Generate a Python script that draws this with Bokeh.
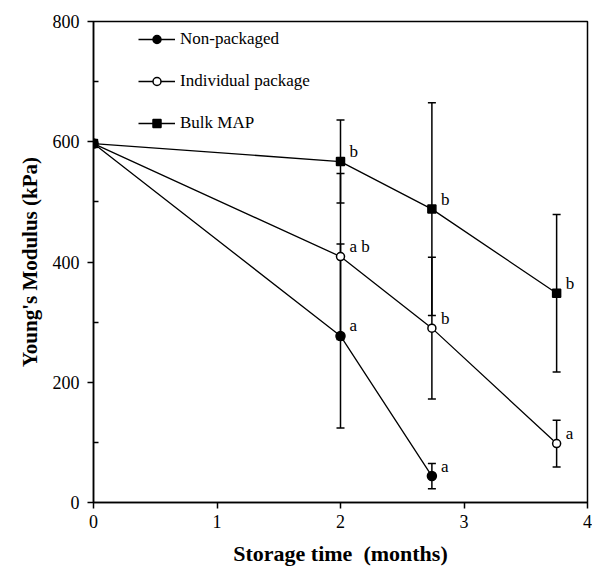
from bokeh.plotting import figure
from bokeh.models import Whisker, TeeHead, ColumnDataSource, FixedTicker, Range1d, Title
from bokeh.embed import file_html
from bokeh.resources import INLINE
from bokeh.core.properties import value

# ---- data ----
months_np = [0, 2, 2.74]
modulus_np = [597, 277, 44]
err_np = [0, 153, 21]
letters_np = ["", "a", "a"]

months_ind = [0, 2, 2.74, 3.75]
modulus_ind = [597, 409, 290, 98]
err_ind = [0, 138, 118, 39]
letters_ind = ["", "a b", "b", "a"]

months_bulk = [0, 2, 2.74, 3.75]
modulus_bulk = [597, 567, 488, 348]
err_bulk = [0, 69, 177, 131]
letters_bulk = ["", "b", "b", "b"]

x_ticks = [0, 1, 2, 3, 4]
y_ticks = [0, 200, 400, 600, 800]
y_minor = [100, 300, 500, 700]

SERIF = "Liberation Serif"

p = figure(width=592, height=568, x_range=Range1d(0, 4), y_range=Range1d(0, 800),
           output_backend="svg", toolbar_location=None,
           min_border_left=93, min_border_right=5, min_border_top=21, min_border_bottom=65)
p.grid.visible = False
p.outline_line_color = "black"
p.outline_line_width = 1.5
p.background_fill_color = "white"
p.border_fill_color = "white"

series = [
    ("Non-packaged", months_np, modulus_np, err_np, letters_np, "circle", "black", 9),
    ("Individual package", months_ind, modulus_ind, err_ind, letters_ind, "circle", "white", 8),
    ("Bulk MAP", months_bulk, modulus_bulk, err_bulk, letters_bulk, "square", "black", 8),
]

sources = []
for name, xs, ys, es, ls, marker, fill, size in series:
    src = ColumnDataSource(dict(x=xs, y=ys, lab=ls))
    sources.append(src)
    p.line("x", "y", source=src, line_color="black", line_width=1.3, legend_label=name)

for name, xs, ys, es, ls, marker, fill, size in series:
    ex = [x for x, e in zip(xs, es) if e > 0]
    up = [y + e for y, e in zip(ys, es) if e > 0]
    lo = [y - e for y, e in zip(ys, es) if e > 0]
    wsrc = ColumnDataSource(dict(x=ex, upper=up, lower=lo))
    w = Whisker(source=wsrc, base="x", upper="upper", lower="lower",
                line_color="black", line_width=1.5,
                upper_head=TeeHead(size=8, line_color="black", line_width=1.5),
                lower_head=TeeHead(size=8, line_color="black", line_width=1.5))
    p.add_layout(w)

for (name, xs, ys, es, ls, marker, fill, size), src in zip(series, sources):
    p.scatter("x", "y", source=src, marker=marker, size=size, fill_color=fill,
              line_color="black", line_width=1.5, legend_label=name)
    p.text("x", "y", text="lab", source=src, x_offset=9, y_offset=-10,
           text_font=value(SERIF), text_font_size="17px", text_color="black",
           text_align="left", text_baseline="middle")

# axes
for ax in (p.xaxis[0], p.yaxis[0]):
    ax.axis_line_width = 1.5
    ax.major_tick_line_width = 1.5
    ax.minor_tick_line_width = 1.5
    ax.major_tick_in = 0
    ax.major_tick_out = 6
    ax.major_label_text_font = SERIF
    ax.major_label_text_font_size = "18px"
    ax.major_label_text_color = "black"
    ax.axis_label_text_font = SERIF
    ax.axis_label_text_font_style = "bold"
    ax.axis_label_text_font_size = "22px"
    ax.axis_label_text_color = "black"

p.xaxis.ticker = FixedTicker(ticks=x_ticks)
p.xaxis.minor_tick_line_color = None
p.xaxis.axis_label = "Storage time\u00a0\u00a0(months)"
p.xaxis.major_label_standoff = 6
p.xaxis.axis_label_standoff = 10

p.yaxis.ticker = FixedTicker(ticks=y_ticks, minor_ticks=y_minor)
p.yaxis.minor_tick_in = 5
p.yaxis.minor_tick_out = 0
p.yaxis.major_label_standoff = 8

ytitle = Title(text="Young's Modulus (kPa)", align="center", offset=4, standoff=16,
               text_font=SERIF, text_font_style="bold", text_font_size="21px",
               text_color="black")
p.add_layout(ytitle, "left")

leg = p.legend[0]
leg.location = (45, 369)
leg.border_line_color = None
leg.background_fill_alpha = 0
leg.padding = 0
leg.margin = 0
leg.spacing = 22
leg.glyph_width = 37
leg.glyph_height = 20
leg.label_height = 20
leg.label_standoff = 5
leg.label_text_font = SERIF
leg.label_text_font_size = "17px"
leg.label_text_color = "black"

open("out.html", "w").write(file_html(p, INLINE))
